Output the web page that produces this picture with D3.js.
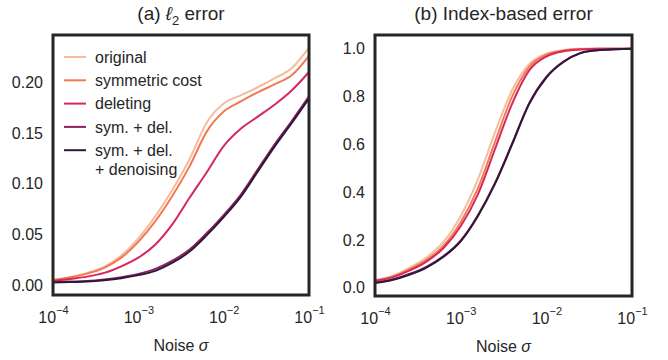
<!DOCTYPE html>
<html>
<head>
<meta charset="utf-8">
<script src="https://cdnjs.cloudflare.com/ajax/libs/d3/7.8.5/d3.min.js"></script>
<style>
    body { margin: 0; background: #fff; }
    svg text { font-family: "Liberation Sans", Arial, sans-serif; fill: #262626; }
</style>
</head>
<body>
<div id="chart"></div>
<script>

// noise levels (log grid, 0.2 decade apart)
var sigma = [1e-4, 1.585e-4, 2.512e-4, 3.981e-4, 6.310e-4, 1e-3, 1.585e-3, 2.512e-3,
    3.981e-3, 6.310e-3, 1e-2, 1.585e-2, 2.512e-2, 3.981e-2, 6.310e-2, 1e-1];

var methodNames = ["original", "symmetric cost", "deleting", "sym. + del.", "sym. + del.|+ denoising"];
var methodColors = ["#f6bb9c", "#f17a55", "#d6285a", "#8f2163", "#2d1838"];

// (a) l2 error
var l2Original  = [0.005, 0.008, 0.012, 0.018, 0.029, 0.046, 0.068, 0.094, 0.124, 0.160, 0.179, 0.187, 0.195, 0.204, 0.214, 0.234];
var l2Symmetric = [0.005, 0.0075, 0.0113, 0.017, 0.027, 0.0427, 0.063, 0.088, 0.117, 0.151, 0.171, 0.181, 0.190, 0.198, 0.207, 0.226];
var l2Deleting  = [0.004, 0.006, 0.0083, 0.012, 0.0185, 0.027, 0.040, 0.060, 0.086, 0.111, 0.137, 0.154, 0.166, 0.178, 0.192, 0.210];
var l2SymDel    = [0.003, 0.0035, 0.004, 0.0055, 0.0078, 0.011, 0.016, 0.024, 0.035, 0.051, 0.069, 0.089, 0.114, 0.139, 0.162, 0.186];
var l2Denoise   = [0.0025, 0.003, 0.0035, 0.0048, 0.0068, 0.0098, 0.014, 0.022, 0.033, 0.049, 0.067, 0.087, 0.112, 0.137, 0.160, 0.184];

// (b) index-based error
var idxOriginal  = [0.033, 0.050, 0.084, 0.127, 0.192, 0.300, 0.453, 0.650, 0.827, 0.936, 0.980, 0.995, 1.0, 1.0, 1.0, 1.0];
var idxSymmetric = [0.030, 0.046, 0.077, 0.117, 0.177, 0.275, 0.415, 0.610, 0.800, 0.925, 0.975, 0.993, 0.999, 1.0, 1.0, 1.0];
var idxDeleting  = [0.030, 0.044, 0.072, 0.110, 0.167, 0.258, 0.390, 0.580, 0.770, 0.910, 0.968, 0.990, 0.997, 1.0, 1.0, 1.0];
var idxSymDel    = [0.022, 0.035, 0.058, 0.088, 0.133, 0.198, 0.303, 0.438, 0.603, 0.773, 0.883, 0.947, 0.983, 0.995, 0.998, 1.0];
var idxDenoise   = [0.020, 0.033, 0.055, 0.085, 0.130, 0.195, 0.300, 0.435, 0.600, 0.770, 0.880, 0.945, 0.982, 0.994, 0.998, 1.0];

var xTicks = [1e-4, 1e-3, 1e-2, 1e-1];
var l2Ticks = [0, 0.05, 0.10, 0.15, 0.20];
var idxTicks = [0, 0.2, 0.4, 0.6, 0.8, 1.0];


LinePanel = function(_svg, _opts, _data){
    this.svg = _svg;
    this.opts = _opts;
    this.data = _data;

    this.initVis();
}

/*
 * Initialize panel (frame, scales, axes)
 */

LinePanel.prototype.initVis = function(){
    var vis = this;

    vis.width = vis.opts.width;
    vis.height = vis.opts.height;

    vis.g = vis.svg.append("g")
        .attr("transform", "translate(" + vis.opts.left + "," + vis.opts.top + ")");

    vis.x = d3.scaleLog().domain([1e-4, 1e-1]).range([0, vis.width]);
    vis.y = d3.scaleLinear().domain(vis.opts.yDomain).range([vis.height, 0]);

    // y axis, no tick marks
    var yAxis = d3.axisLeft(vis.y).tickValues(vis.opts.yTicks).tickSize(0).tickPadding(10)
        .tickFormat(d3.format(vis.opts.yFormat));
    var yg = vis.g.append("g").call(yAxis);
    yg.select(".domain").remove();
    yg.selectAll("text").attr("font-size", 16).style("fill", "#262626");

    // x axis with 10^n labels
    var xAxis = d3.axisBottom(vis.x).tickValues(xTicks).tickSize(0);
    var xg = vis.g.append("g").attr("transform", "translate(0," + vis.height + ")").call(xAxis);
    xg.select(".domain").remove();
    xg.selectAll("text")
        .attr("y", 28).attr("dy", 0)
        .attr("font-size", 16)
        .style("fill", "#262626")
        .each(function(d){
            var t = d3.select(this).text("");
            t.append("tspan").text("10");
            t.append("tspan").attr("dy", -9).attr("font-size", 11)
                .text("\u2212" + Math.round(-Math.log10(d)));
        });

    // x label
    var xl = vis.g.append("text")
        .attr("x", vis.width / 2)
        .attr("y", vis.height + 56)
        .attr("text-anchor", "middle")
        .attr("font-size", 16);
    xl.append("tspan").text("Noise ");
    xl.append("tspan").attr("font-style", "italic").text("\u03c3");

    // title
    vis.opts.title(vis.g.append("text")
        .attr("x", vis.width / 2)
        .attr("y", -15)
        .attr("text-anchor", "middle")
        .attr("font-size", 19));

    vis.updateVis();
}

/*
 * Draw the lines
 */

LinePanel.prototype.updateVis = function(){
    var vis = this;

    var line = d3.line()
        .x(function(d, i){ return vis.x(sigma[i]); })
        .y(function(d){ return vis.y(d); })
        .curve(d3.curveMonotoneX);

    vis.g.selectAll(".series")
        .data(vis.data)
        .enter()
        .append("path")
        .attr("class", "series")
        .attr("d", line)
        .attr("fill", "none")
        .attr("stroke", function(d, i){ return methodColors[i]; })
        .attr("stroke-width", 2)
        .attr("stroke-linejoin", "round");

    // frame
    vis.g.append("rect")
        .attr("width", vis.width)
        .attr("height", vis.height)
        .attr("fill", "none")
        .attr("stroke", "#262626")
        .attr("stroke-width", 3);

    if (vis.opts.legend) {
        var lg = vis.g.append("g").attr("transform", "translate(11,22)");
        methodNames.forEach(function(name, i){
            var row = lg.append("g").attr("transform", "translate(0," + (i * 23.3) + ")");
            row.append("line")
                .attr("x1", 0).attr("x2", 22)
                .attr("stroke", methodColors[i])
                .attr("stroke-width", 2);
            var parts = name.split("|");
            parts.forEach(function(p, k){
                row.append("text")
                    .attr("x", 31)
                    .attr("y", k * 19)
                    .attr("dy", "0.35em")
                    .attr("font-size", 16)
                    .text(p);
            });
        });
    }
}


var svg = d3.select("#chart").append("svg")
    .attr("width", 668)
    .attr("height", 360);

new LinePanel(svg, {
    left: 53, top: 35, width: 256, height: 260,
    yDomain: [-0.0098, 0.2465], yTicks: l2Ticks, yFormat: ".2f",
    legend: true,
    title: function(t){
        t.append("tspan").text("(a) ");
        t.append("tspan").attr("font-style", "italic").text("\u2113");
        t.append("tspan").attr("dy", 5).attr("font-size", 13).text("2");
        t.append("tspan").attr("dy", -5).text(" error");
    }
}, [l2Original, l2Symmetric, l2Deleting, l2SymDel, l2Denoise]);

new LinePanel(svg, {
    left: 375, top: 35, width: 257, height: 261,
    yDomain: [-0.034, 1.058], yTicks: idxTicks, yFormat: ".1f",
    legend: false,
    title: function(t){ t.text("(b) Index-based error"); }
}, [idxOriginal, idxSymmetric, idxDeleting, idxSymDel, idxDenoise]);

</script>
</body>
</html>
